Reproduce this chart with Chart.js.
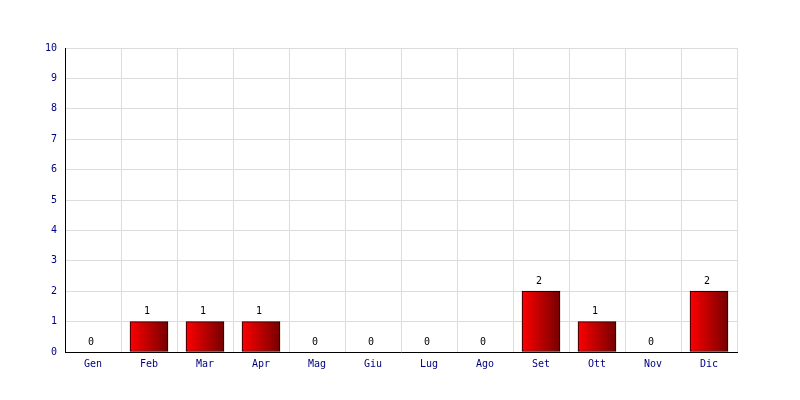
<!DOCTYPE html>
<html>
<head>
<meta charset="utf-8">
<script src="https://cdn.jsdelivr.net/npm/chart.js@4"></script>
<style>
  html, body { margin: 0; padding: 0; background: #fff; }
  #wrap { width: 800px; height: 400px; }
</style>
</head>
<body>
<div id="wrap"><canvas id="chart" width="800" height="400"></canvas></div>
<script>
const months = ['Gen', 'Feb', 'Mar', 'Apr', 'Mag', 'Giu', 'Lug', 'Ago', 'Set', 'Ott', 'Nov', 'Dic']
const counts = [0, 1, 1, 1, 0, 0, 0, 0, 2, 1, 0, 2]
const yMax = 10

const font = { family: '"DejaVu Sans Mono", monospace', size: 10 }
const barW = 38

// red -> dark red across each bar
function barFill(c) {
    const chart = c.chart
    const x = chart.scales.x
    if (!counts[c.dataIndex]) return 'rgba(0,0,0,0)'
    if (!x || !chart.chartArea) return '#d00000'
    const cx = x.getPixelForValue(c.dataIndex) - 0.5
    const g = chart.ctx.createLinearGradient(cx - barW / 2, 0, cx + barW / 2, 0)
    g.addColorStop(0, '#ff0000')
    g.addColorStop(1, '#780000')
    return g
}

const valueLabels = {
    id: 'valueLabels',
    afterDatasetsDraw(chart) {
        const ctx = chart.ctx
        const meta = chart.getDatasetMeta(0)
        ctx.save()
        ctx.font = `${font.size}px ${font.family}`
        ctx.fillStyle = '#000'
        ctx.textAlign = 'center'
        ctx.textBaseline = 'bottom'
        meta.data.forEach((bar, i) => {
            ctx.fillText(String(counts[i]), bar.x - 2, bar.y - 5)
        })
        ctx.restore()
    }
}

new Chart(document.getElementById('chart'), {
    type: 'bar',
    data: {
        labels: months,
        datasets: [{
            data: counts,
            backgroundColor: barFill,
            borderColor: c => counts[c.dataIndex] ? '#000' : 'rgba(0,0,0,0)',
            borderWidth: c => counts[c.dataIndex] ? 1 : 0,
            borderSkipped: false,
            barThickness: barW
        }]
    },
    options: {
        responsive: false,
        animation: false,
        layout: { padding: { top: 48, right: 63, left: 0, bottom: 0 } },
        plugins: { legend: { display: false }, tooltip: { enabled: false } },
        scales: {
            x: {
                offset: true,
                grid: { color: '#dcdcdc', drawTicks: false, offset: true },
                border: { color: '#000', width: 1 },
                ticks: { color: '#000080', font, padding: 6 },
                afterFit: s => { s.height = 48 }
            },
            y: {
                min: 0,
                max: yMax,
                grid: { color: '#dcdcdc', drawTicks: false },
                border: { color: '#000', width: 1 },
                ticks: { color: '#000080', font, padding: 8, stepSize: 1 },
                afterFit: s => { s.width = 65 }
            }
        }
    },
    plugins: [valueLabels]
});
</script>
</body>
</html>
